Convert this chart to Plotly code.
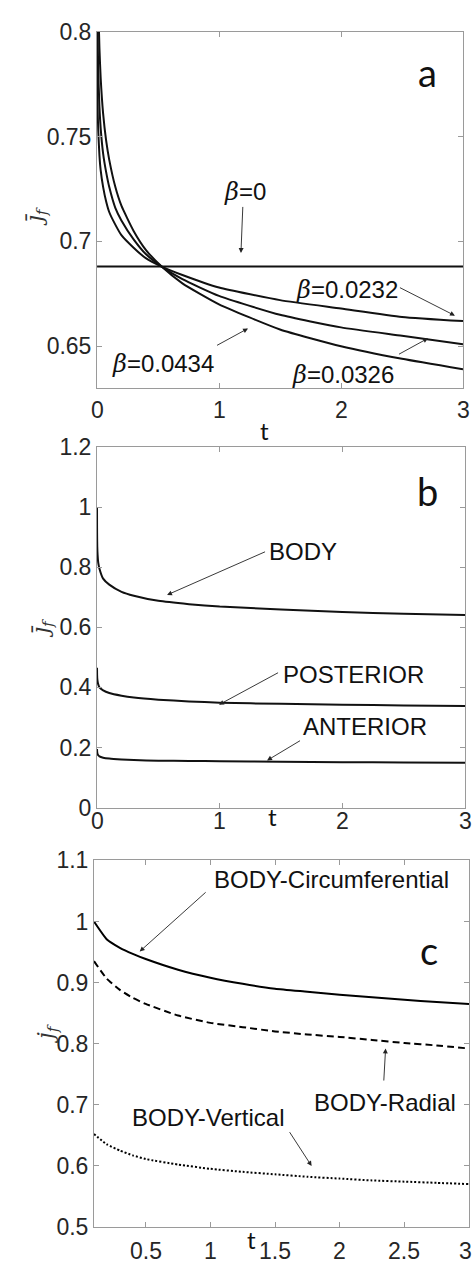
import plotly.graph_objects as go

# ---------------- data ----------------
# Panel a
t_a = [0.0005, 0.001, 0.002, 0.005, 0.01, 0.02, 0.03, 0.05, 0.075, 0.1, 0.15, 0.2,
       0.3, 0.4, 0.53, 0.7, 1.0, 1.5, 2.0, 2.5, 3.0]
beta_0 = [0.688] * len(t_a)
beta_0232 = [0.805, 0.793, 0.781, 0.764, 0.753, 0.741, 0.734, 0.726, 0.719, 0.714, 0.708,
             0.703, 0.697, 0.692, 0.688, 0.684, 0.678, 0.672, 0.668, 0.664, 0.662]
beta_0326 = [0.860, 0.842, 0.823, 0.799, 0.782, 0.764, 0.754, 0.742, 0.733, 0.726, 0.716,
             0.710, 0.701, 0.694, 0.688, 0.682, 0.674, 0.665, 0.659, 0.655, 0.651]
beta_0434 = [0.927, 0.900, 0.874, 0.840, 0.815, 0.792, 0.778, 0.761, 0.748, 0.739, 0.726,
             0.717, 0.705, 0.696, 0.688, 0.680, 0.670, 0.658, 0.650, 0.644, 0.639]

# Panel b
t_b = [0.0, 0.0005, 0.001, 0.002, 0.005, 0.01, 0.02, 0.05, 0.1, 0.2, 0.3, 0.5, 0.75,
       1.0, 1.5, 2.0, 2.5, 3.0]
body = [1.0, 0.93, 0.90, 0.87, 0.84, 0.815, 0.795, 0.762, 0.742, 0.718, 0.705, 0.688,
        0.677, 0.669, 0.659, 0.651, 0.645, 0.641]
posterior = [0.465, 0.45, 0.44, 0.43, 0.42, 0.41, 0.40, 0.39, 0.381, 0.372, 0.366, 0.359,
             0.353, 0.349, 0.345, 0.342, 0.340, 0.338]
anterior = [0.195, 0.19, 0.187, 0.183, 0.178, 0.174, 0.170, 0.166, 0.163, 0.160, 0.158,
            0.156, 0.155, 0.154, 0.152, 0.151, 0.150, 0.149]

# Panel c
t_c = [0.1, 0.2, 0.3, 0.4, 0.5, 0.75, 1.0, 1.25, 1.5, 1.75, 2.0, 2.25, 2.5, 2.75, 3.0]
circumferential = [1.0, 0.9706, 0.957, 0.947, 0.9385, 0.921, 0.908, 0.898, 0.890, 0.885,
                   0.880, 0.876, 0.872, 0.868, 0.865]
radial = [0.935, 0.906, 0.888, 0.875, 0.865, 0.846, 0.834, 0.827, 0.820, 0.815, 0.811,
          0.806, 0.801, 0.797, 0.792]
vertical = [0.652, 0.635, 0.625, 0.617, 0.611, 0.602, 0.595, 0.590, 0.586, 0.582, 0.579,
            0.576, 0.574, 0.572, 0.570]

# axis settings
xt_a = [0, 1, 2, 3]
yt_a = [0.65, 0.7, 0.75, 0.8]
xt_b = [0, 1, 2, 3]
yt_b = [0, 0.2, 0.4, 0.6, 0.8, 1, 1.2]
xt_c = [0.5, 1, 1.5, 2, 2.5, 3]
yt_c = [0.5, 0.6, 0.7, 0.8, 0.9, 1, 1.1]

W, H = 474, 1280
TICKFONT = dict(family="Liberation Sans, Arial", size=23, color="#262626")
ANNFONT = dict(family="Liberation Sans, Arial", size=24, color="#111111")
LETTERFONT = dict(family="Lato, Open Sans", size=38, color="#111111")
TFONT = dict(family="Lato, Open Sans", size=24, color="#111111")
JFONT = dict(family="DejaVu Serif", size=22, color="#333333")

fig = go.Figure()

LW = 2.0
SPL = dict(shape="spline", smoothing=0.5)
for y, nm in [(beta_0, "b0"), (beta_0232, "b1"), (beta_0326, "b2"), (beta_0434, "b3")]:
    fig.add_trace(go.Scatter(x=t_a, y=y, mode="lines",
                             line=dict(color="#111111", width=LW, **SPL),
                             xaxis="x", yaxis="y", showlegend=False, name=nm))
for y in [body, posterior, anterior]:
    fig.add_trace(go.Scatter(x=t_b, y=y, mode="lines",
                             line=dict(color="#111111", width=LW, **SPL),
                             xaxis="x2", yaxis="y2", showlegend=False))
fig.add_trace(go.Scatter(x=t_c, y=circumferential, mode="lines",
                         line=dict(color="#000000", width=LW, **SPL),
                         xaxis="x3", yaxis="y3", showlegend=False))
fig.add_trace(go.Scatter(x=t_c, y=radial, mode="lines",
                         line=dict(color="#000000", width=LW, dash="7px,4px", **SPL),
                         xaxis="x3", yaxis="y3", showlegend=False))
fig.add_trace(go.Scatter(x=t_c, y=vertical, mode="lines",
                         line=dict(color="#000000", width=LW, dash="2px,2px", **SPL),
                         xaxis="x3", yaxis="y3", showlegend=False))


def px2x(px):
    return px / W


def py2y(py):
    return 1 - py / H


GRAY = "#9a9a9a"


def axis(domain, rng, tickvals, anchor):
    return dict(domain=domain, range=rng, tickvals=tickvals, anchor=anchor,
                showgrid=False, zeroline=False, showline=True, linecolor=GRAY,
                linewidth=1, mirror="allticks", ticks="inside", ticklen=5,
                tickcolor=GRAY, tickfont=TICKFONT)


def xaxis(domain, rng, tickvals, anchor):
    # tick numbers drawn as annotations below the axis (see below)
    d = axis(domain, rng, tickvals, anchor)
    d["showticklabels"] = False
    return d


dom_a = [px2x(97), px2x(463)]
dom_b = [px2x(97), px2x(465)]
dom_c = [px2x(94), px2x(469)]

fig.update_layout(
    width=W, height=H, margin=dict(l=0, r=0, t=0, b=0),
    paper_bgcolor="white", plot_bgcolor="white",
    xaxis=xaxis(dom_a, [0, 3], xt_a, "y"),
    yaxis=axis([py2y(383), py2y(19)], [0.63, 0.8], yt_a, "x"),
    xaxis2=xaxis(dom_b, [0, 3], xt_b, "y2"),
    yaxis2=axis([py2y(811), py2y(443)], [0, 1.2], yt_b, "x2"),
    xaxis3=xaxis(dom_c, [0.1, 3], xt_c, "y3"),
    yaxis3=axis([py2y(1239), py2y(865)], [0.5, 1.1], yt_c, "x3"),
)

ann = []


def text(x, y, s, xr, yr, font=ANNFONT, **kw):
    ann.append(dict(x=x, y=y, xref=xr, yref=yr, text=s, showarrow=False, font=font, **kw))


def arrow(x, y, ax, ay, xr, yr):
    ann.append(dict(x=x, y=y, xref=xr, yref=yr, ax=ax, ay=ay, text=" ", showarrow=True,
                    arrowhead=2, arrowsize=1.1, arrowwidth=0.9, arrowcolor="#222222",
                    font=dict(size=4)))


# x tick numbers: placed at tick values along x, fixed pixel row below each panel
for xr, vals, row in [("x", xt_a, 405), ("x2", xt_b, 825), ("x3", xt_c, 1264)]:
    for i, v in enumerate(vals):
        extra = {}
        if xr == "x3" and i == len(vals) - 1:
            # last label sits at the right page edge; keep it inside the page
            extra = dict(xanchor="right", xshift=5)
        ann.append(dict(x=v, y=py2y(row), xref=xr, yref="paper", text=f"{v:g}",
                        showarrow=False, font=TICKFONT, yanchor="middle", **extra))

B = "<span style='font-family:DejaVu Serif'><i>β</i></span>"
# Panel a
text(2.713, 0.7795, "a", "x", "y", LETTERFONT, yshift=3)
text(1.213, 0.7234, B + "=0", "x", "y")
arrow(1.18, 0.6945, 2, -50, "x", "y")
text(2.05, 0.6767, B + "=0.0232", "x", "y")
arrow(2.934, 0.6646, -57, -29, "x", "y")
text(0.541, 0.6417, B + "=0.0434", "x", "y")
arrow(1.238, 0.6585, -33, 18, "x", "y")
text(2.016, 0.6365, B + "=0.0326", "x", "y")
arrow(2.713, 0.6538, -31, 17, "x", "y")

# Panel b
text(2.698, 1.053, "b", "x2", "y2", LETTERFONT)
text(1.679, 0.851, "BODY", "x2", "y2")
arrow(0.571, 0.7076, 100, -44, "x2", "y2")
text(2.087, 0.4435, "POSTERIOR", "x2", "y2")
arrow(0.995, 0.3424, 61, -33, "x2", "y2")
text(2.185, 0.2707, "ANTERIOR", "x2", "y2")
arrow(1.386, 0.1565, 35, -21, "x2", "y2")

# Panel c
text(1.938, 1.068, "BODY-Circumferential", "x3", "y3")
arrow(0.453, 0.9508, 68, -61, "x3", "y3")
text(2.688, 0.9476, "c", "x3", "y3", LETTERFONT, yshift=3)
text(2.348, 0.7037, "BODY-Radial", "x3", "y3")
arrow(2.355, 0.792, -2, 36, "x3", "y3")
text(0.987, 0.6797, "BODY-Vertical", "x3", "y3")
arrow(1.783, 0.5995, -24, -37, "x3", "y3")

# axis titles
text(px2x(264), py2y(409), "t", "paper", "paper", TFONT)
text(px2x(272), py2y(820), "t", "paper", "paper", TFONT)
text(px2x(252), py2y(1269), "t", "paper", "paper", TFONT)
JBAR = "<i>j̄</i><sub><i>f</i></sub>"
JDOT = "<i>j</i><sub><i>f</i></sub>"
text(px2x(20), py2y(196), JBAR, "paper", "paper", JFONT, textangle=-90)
text(px2x(26), py2y(628), JBAR, "paper", "paper", JFONT, textangle=-90)
text(px2x(31), py2y(1055), JDOT, "paper", "paper", JFONT, textangle=-90)

fig.update_layout(annotations=ann)
fig.write_html("out.html")
